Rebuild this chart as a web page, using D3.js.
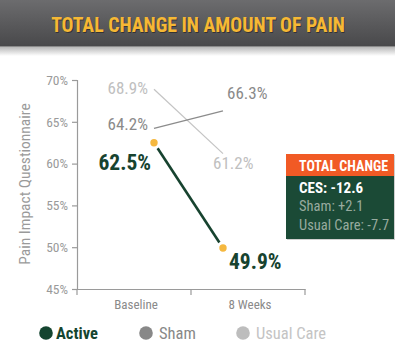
<!DOCTYPE html>
<html>
<head>
<meta charset="utf-8">
<script src="https://cdn.jsdelivr.net/npm/d3@7"></script>
<style>
html,body{margin:0;padding:0;background:#fff;}
svg{display:block;}
text{font-family:"Liberation Sans Narrow","Roboto Condensed","DejaVu Sans Condensed","Liberation Sans",sans-serif;}
</style>
</head>
<body>
<svg id="chart" width="395" height="357"></svg>
<script>
const title = "TOTAL CHANGE IN AMOUNT OF PAIN";
const categories = ["Baseline", "8 Weeks"];
const activeValues = [62.5, 49.9];
const shamValues = [64.2, 66.3];
const usualCareValues = [68.9, 61.2];
const yTicks = [45, 50, 55, 60, 65, 70];
const yAxisTitle = "Pain Impact Questionnaire";
const seriesNames = ["Active", "Sham", "Usual Care"];
const boxTitle = "TOTAL CHANGE";
const boxLines = ["CES: -12.6", "Sham: +2.1", "Usual Care: -7.7"];

const svg = d3.select("#chart");
const defs = svg.append("defs");
const g1 = defs.append("linearGradient").attr("id","bar").attr("x1",0).attr("y1",0).attr("x2",0).attr("y2",1);
g1.append("stop").attr("offset","0%").attr("stop-color","#6c6c6e");
g1.append("stop").attr("offset","100%").attr("stop-color","#48484a");
const g2 = defs.append("linearGradient").attr("id","shadow").attr("x1",0).attr("y1",0).attr("x2",0).attr("y2",1);
g2.append("stop").attr("offset","0%").attr("stop-color","#b8b8b8");
g2.append("stop").attr("offset","100%").attr("stop-color","#ffffff");

// title bar
svg.append("rect").attr("x",0).attr("y",47).attr("width",395).attr("height",9).attr("fill","url(#shadow)");
svg.append("rect").attr("x",0).attr("y",0).attr("width",395).attr("height",47).attr("fill","url(#bar)");
svg.append("rect").attr("x",0).attr("y",46).attr("width",395).attr("height",1).attr("fill","#8a8a8a");
svg.append("text").attr("x",198).attr("y",25).attr("text-anchor","middle").attr("dominant-baseline","central")
  .attr("font-size",19.8).attr("font-weight","bold").attr("fill","#1e1e1e").attr("opacity",0.6).text(title)
  .attr("transform","translate(0.8,1)");
svg.append("text").attr("x",198).attr("y",25).attr("text-anchor","middle").attr("dominant-baseline","central")
  .attr("font-size",19.8).attr("font-weight","bold").attr("fill","#f6b834").text(title);

// scales
const y = d3.scaleLinear().domain([45,70]).range([289,80]);
const xBand = d3.scaleBand().domain(categories).range([77,305]);
const xPt = d3.scalePoint().domain(categories).range([154,223]);

// y axis
const yAxis = svg.append("g").attr("transform","translate(77,0)")
  .call(d3.axisLeft(y).tickValues(yTicks).tickFormat(d => d + "%").tickSize(5).tickPadding(4));
yAxis.select(".domain").attr("stroke","#9a9a9a").attr("stroke-width",1.2);
yAxis.selectAll(".tick line").attr("stroke","#9a9a9a").attr("stroke-width",1.2);
yAxis.selectAll(".tick text").attr("fill","#9a9a9a").attr("font-size",13.5)
  .attr("font-family","'Liberation Sans Narrow',sans-serif");

// x axis
const xAxis = svg.append("g").attr("transform","translate(0,289)")
  .call(d3.axisBottom(xBand).tickSize(0).tickPadding(11));
xAxis.select(".domain").attr("stroke","#9a9a9a").attr("stroke-width",1.2);
xAxis.selectAll(".tick text").attr("fill","#8a8a8a").attr("font-size",13)
  .attr("font-family","'Liberation Sans Narrow',sans-serif").attr("dx",2);
const bounds = categories.map(c => xBand(c)).concat([xBand.range()[1]]);
svg.append("g").selectAll("line").data(bounds).join("line")
  .attr("x1",d=>d).attr("x2",d=>d).attr("y1",289).attr("y2",295)
  .attr("stroke","#9a9a9a").attr("stroke-width",1.2);

// y title
svg.append("text").attr("transform","translate(25,184) rotate(-90)").attr("text-anchor","middle")
  .attr("dominant-baseline","central").attr("font-size",15.5).attr("fill","#9a9a9a").text(yAxisTitle);

// lines
const line = d3.line().x((d,i)=>xPt(categories[i])).y(d=>y(d));
svg.append("path").datum(usualCareValues).attr("d",line).attr("fill","none").attr("stroke","#c4c4c4").attr("stroke-width",1.2);
svg.append("path").datum(shamValues).attr("d",line).attr("fill","none").attr("stroke","#8c8c8c").attr("stroke-width",1.3);
svg.append("path").datum(activeValues).attr("d",line).attr("fill","none").attr("stroke","#17432f").attr("stroke-width",2.6);
svg.append("g").selectAll("circle").data(activeValues).join("circle")
  .attr("cx",(d,i)=>xPt(categories[i])).attr("cy",d=>y(d)).attr("r",5.2)
  .attr("fill","#f5b83f").attr("stroke","#fff").attr("stroke-width",3);

// value labels
const fmt = v => v.toFixed(1) + "%";
function label(v, i, dx, dy, anchor, color, size, weight){
  svg.append("text").attr("x", xPt(categories[i]) + dx).attr("y", y(v) + dy)
    .attr("text-anchor", anchor).attr("dominant-baseline","central")
    .attr("font-size", size).attr("font-weight", weight).attr("fill", color).text(fmt(v));
}
label(usualCareValues[0],0,-6,-1,"end","#c0c0c0",17,"normal");
label(shamValues[0],0,-6,-4,"end","#8a8a8a",17,"normal");
label(activeValues[0],0,-3,20,"end","#17432f",21.5,"bold");
label(shamValues[1],1,4,-18,"start","#8a8a8a",17,"normal");
label(usualCareValues[1],1,-10,9,"start","#c0c0c0",17,"normal");
label(activeValues[1],1,6,13,"start","#17432f",21.5,"bold");

// total change box
const box = svg.append("g").attr("transform","translate(286,154)");
box.append("rect").attr("x",1).attr("y",1).attr("width",108).attr("height",85).attr("fill","#cfcfcf");
box.append("rect").attr("x",0).attr("y",0).attr("width",108).attr("height",85).attr("fill","#1b4a36");
box.append("rect").attr("x",0).attr("y",0).attr("width",108).attr("height",22).attr("fill","#f15a25");
box.append("text").attr("x",13).attr("y",12).attr("dominant-baseline","central").attr("font-size",14)
  .attr("font-weight","bold").attr("fill","#fff").text(boxTitle);
const boxColors = ["#ffffff","#98ab9f","#98ab9f"];
box.selectAll("text.l").data(boxLines).join("text").attr("class","l")
  .attr("x",13).attr("y",(d,i)=>34 + i*18.5).attr("dominant-baseline","central")
  .attr("font-size",(d,i)=> i===0?15:14.5).attr("font-weight",(d,i)=>i===0?"bold":"normal")
  .attr("fill",(d,i)=>boxColors[i]).text(d=>d);

// legend
const legendColors = ["#144530","#888888","#bdbdbd"];
const legendText = ["#144530","#888888","#c4c4c4"];
const legendX = [46,146,243];
const lg = svg.append("g").selectAll("g").data(seriesNames).join("g")
  .attr("transform",(d,i)=>`translate(${legendX[i]},333)`);
lg.append("circle").attr("r",6.8).attr("fill",(d,i)=>legendColors[i]);
lg.append("text").attr("x",(d,i)=> i===0?10:13).attr("dominant-baseline","central")
  .attr("font-size",(d,i)=>i===0?16.5:16.5).attr("font-weight",(d,i)=>i===0?"bold":"normal")
  .attr("fill",(d,i)=>legendText[i]).text(d=>d);
</script>
</body>
</html>
